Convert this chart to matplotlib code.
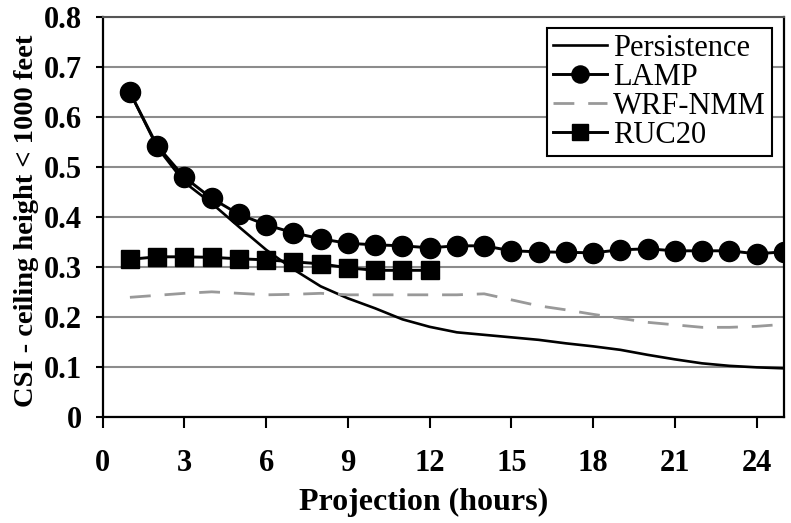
import matplotlib
matplotlib.use("Agg")
import matplotlib.pyplot as plt

hours = list(range(1, 26))
persistence = [0.65, 0.54, 0.47, 0.428, 0.381, 0.335, 0.296, 0.262, 0.238, 0.218,
               0.196, 0.181, 0.170, 0.165, 0.160, 0.155, 0.148, 0.142, 0.135, 0.125,
               0.116, 0.108, 0.103, 0.100, 0.098]
lamp = [0.65, 0.543, 0.48, 0.438, 0.406, 0.385, 0.369, 0.357, 0.348, 0.345,
        0.343, 0.339, 0.343, 0.343, 0.333, 0.331, 0.330, 0.329, 0.335, 0.337,
        0.333, 0.333, 0.333, 0.327, 0.331]
wrf = [0.240, 0.244, 0.248, 0.251, 0.248, 0.245, 0.246, 0.248, 0.245, 0.245,
       0.245, 0.245, 0.245, 0.247, 0.235, 0.223, 0.215, 0.206, 0.198, 0.190,
       0.185, 0.180, 0.180, 0.182, 0.186]
ruc_hours = list(range(1, 13))
ruc20 = [0.316, 0.321, 0.321, 0.320, 0.317, 0.315, 0.311, 0.307, 0.299, 0.294,
         0.294, 0.294]

xticks = [0, 3, 6, 9, 12, 15, 18, 21, 24]
yticks = [0, 0.1, 0.2, 0.3, 0.4, 0.5, 0.6, 0.7, 0.8]
ytick_labels = ["0", "0.1", "0.2", "0.3", "0.4", "0.5", "0.6", "0.7", "0.8"]

plt.rcParams['font.family'] = ['Liberation Serif', 'DejaVu Serif']

FS = 22

fig = plt.figure(figsize=(7.91, 5.23), dpi=100)
ax = fig.add_axes([0.1298, 0.202, 0.991 - 0.1298, 0.967 - 0.202])

ax.plot(hours, persistence, color='black', lw=1.9, label='Persistence', zorder=3)
ax.plot(hours, lamp, color='black', lw=2.1, marker='o', markersize=14.5,
        label='LAMP', zorder=5)
ax.plot(hours, wrf, color='#999999', lw=2.0, dashes=(7.5, 5), label='WRF-NMM', zorder=3)
ax.plot(ruc_hours, ruc20, color='black', lw=2.1, marker='s', markersize=13,
        label='RUC20', zorder=4)

ax.set_xlim(0, 25)
ax.set_ylim(0, 0.8)
ax.set_xticks(xticks)
ax.set_xticklabels([str(t) for t in xticks], fontsize=FS, fontweight='bold')
ax.set_yticks(yticks)
ax.set_yticklabels(ytick_labels, fontsize=FS, fontweight='bold')
ax.tick_params(axis='x', direction='out', length=8, width=1.5, pad=15)
ax.tick_params(axis='y', direction='out', length=5, width=1.5, pad=10)

ax.yaxis.grid(True, color='#8c8c8c', lw=1.5, zorder=0)
ax.set_axisbelow(True)

for s in ['left', 'bottom', 'right']:
    ax.spines[s].set_color('black')
    ax.spines[s].set_linewidth(1.6)
ax.spines['top'].set_color('#555555')
ax.spines['top'].set_linewidth(1.5)

ax.set_xlabel('Projection (hours)', fontsize=23, fontweight='bold')
ax.set_ylabel('CSI - ceiling height < 1000 feet', fontsize=20.5, fontweight='bold')
ax.xaxis.set_label_coords(0.4716, -0.176)
ax.yaxis.set_label_coords(-0.094, 0.49)

leg = ax.legend(loc='upper right', bbox_to_anchor=(0.982, 0.973), fontsize=FS,
                frameon=True, fancybox=False, framealpha=1, edgecolor='black',
                handlelength=1.75, handletextpad=0.2, labelspacing=0.0,
                borderpad=0.2, borderaxespad=0.0, markerscale=0.85)
leg.get_frame().set_linewidth(1.5)
leg.set_zorder(10)

fig.savefig('out.png', dpi=100)
